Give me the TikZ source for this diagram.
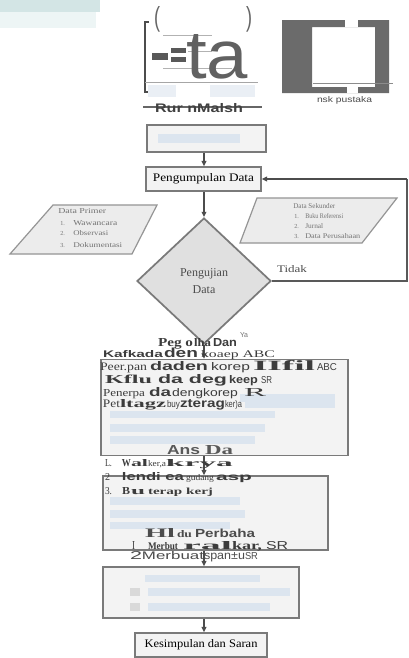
\documentclass[tikz,border=0pt]{standalone}
\usepackage{fontspec}
\setmainfont{Liberation Serif}
\newfontfamily\sfA{Liberation Sans}
\newfontfamily\sfN[FakeStretch=0.7]{Liberation Sans}
\newfontfamily\rmW[FakeStretch=1.4]{Liberation Serif}
\usetikzlibrary{arrows.meta,shapes.geometric}
\newdimen\pxu \pxu=0.75pt
\newcommand\fw[3]{\resizebox{#1\pxu}{#2\pxu}{#3}}
\definecolor{boxc}{HTML}{7A7A7A}
\definecolor{fillc}{HTML}{F3F3F3}
\definecolor{txt}{HTML}{3C3C3C}
\definecolor{blu}{HTML}{DCE5EF}
\definecolor{dk}{HTML}{6B6B6B}
\definecolor{parac}{HTML}{ECECEC}
\definecolor{tealc}{HTML}{D3E5E5}
\tikzset{
  tx/.style={anchor=base west, inner sep=0pt, outer sep=0pt, text=txt},
  box/.style={draw=boxc, line width=1.1pt, fill=fillc, inner sep=0pt},
  arr/.style={draw=black!70, line width=1pt, -{Triangle[length=4pt,width=3.5pt]}},
  ln/.style={draw=black!65, line width=1pt},
  pgram/.style={draw=boxc!80, line width=0.9pt, fill=parac},
  ptx/.style={anchor=base west, inner sep=0pt, text=black!55, font=\fontsize{4.6}{5}\selectfont}
}
\begin{document}
\begin{tikzpicture}[x=0.75pt,y=-0.75pt]
\useasboundingbox[fill=white] (0,0) rectangle (409,658);

% ---- top area
\fill[tealc] (0,0) rectangle (100,12);
\fill[tealc!40] (0,12) rectangle (96,28);
\draw[black!70, line width=1pt] (149,22) -- (145,22) -- (145,92) -- (149,92);
\draw[black!30, line width=0.6pt] (163,35) -- (212,35);
\draw[black!30, line width=0.6pt] (188,51) -- (212,51);
\draw[black!30, line width=0.6pt] (163,68) -- (232,68);
\draw[black!35, line width=0.6pt] (145,82) -- (258,82);
\fill[blu!60] (148,85) rectangle (176,97);
\fill[blu!60] (210,85) rectangle (255,97);
\node[tx, text=black!60] (pl) at (154,26) {\fw{6}{20}{\sfA (}};
\node[tx, text=black!60] (pr) at (246,26) {\fw{6}{20}{\sfA )}};
\fill[black!65] (152,53) rectangle (168,60);
\fill[black!65] (171,48) rectangle (186,53);
\fill[black!65] (171,57) rectangle (186,62);
\node[tx, text=black!62] (ta) at (186,78) {\fw{62}{44}{\sfA ta}};
\draw[black!60, line width=0.8pt] (143,107) -- (262,107);
\node[tx, text=black!75] (rm) at (155,112) {\fw{88}{9}{\sfA\bfseries Rur nMalsh}};

\fill[dk, even odd rule] (282,20) rectangle (389,93) (312,27) rectangle (375,87);
\fill[white] (345,20) rectangle (358,27);
\fill[white] (347,87) rectangle (358,93);
\draw[black!45, line width=0.7pt] (313,83) -- (393,83);
\node[tx, text=black!70] (sp) at (317,102) {\fw{55}{6}{\sfA nsk pustaka}};

% ---- flow boxes
\node[box, minimum width={119*0.75pt}, minimum height={27*0.75pt}] (b1) at (206.5,138.5) {};
\fill[blu] (158,134) rectangle (240,143);
\node[box, minimum width={115*0.75pt}, minimum height={24*0.75pt}] (pd) at (203.5,179) {\fw{101}{8}{Pengumpulan Data}};
\node[draw=boxc, line width=1.3pt, fill=black!12, shape=diamond, inner sep=0pt,
      minimum width={134*0.75pt}, minimum height={126*0.75pt}, align=center,
      font=\fontsize{9}{12.75}\selectfont, text=black!70] (dg) at (204,281) {Pengujian\\Data};
\node[box, minimum width={247*0.75pt}, minimum height={96*0.75pt}] (bx2) at (224.5,407.5) {};
\node[box, minimum width={225*0.75pt}, minimum height={74*0.75pt}] (bx3) at (215.5,513) {};
\node[box, minimum width={196*0.75pt}, minimum height={51*0.75pt}] (bx4) at (201,592.5) {};
\node[box, minimum width={132*0.75pt}, minimum height={24*0.75pt}] (bx5) at (201,645) {\fw{113}{8}{Kesimpulan dan Saran}};

% parallelograms
\draw[pgram] (53,205) -- (157,205) -- (132,254) -- (10,254) -- cycle;
\node[ptx] (p0) at (58,213) {\fw{48}{5}{Data Primer}};
\node[ptx] (p1n) at (60,225) {1.};
\node[ptx] (p1) at (73,225) {\fw{44}{5}{Wawancara}};
\node[ptx] (p2n) at (60,235) {2.};
\node[ptx] (p2) at (73,235) {\fw{35}{5}{Observasi}};
\node[ptx] (p3n) at (60,247) {3.};
\node[ptx] (p3) at (73,247) {\fw{49}{5}{Dokumentasi}};

\draw[pgram] (257,198) -- (397,198) -- (362,243) -- (240,243) -- cycle;
\node[ptx] (s0) at (293,208) {\fw{42}{5}{Data Sekunder}};
\node[ptx] (s1n) at (294,218) {1.};
\node[ptx] (s1) at (305,218) {\fw{38}{5}{Buku Referensi}};
\node[ptx] (s2n) at (294,228) {2.};
\node[ptx] (s2) at (305,228) {\fw{18}{5}{Jurnal}};
\node[ptx] (s3n) at (294,238) {3.};
\node[ptx] (s3) at (305,238) {\fw{55}{5}{Data Perusahaan}};

\node[tx, text=black!70] (td) at (277,272) {\fw{30}{7}{Tidak}};

% connectors
\coordinate (rt) at (407,0);
\draw[arr] (b1.south -| dg.north) -- (pd.north -| dg.north);
\draw[arr] (pd.south -| dg.north) -- (dg.north);
\draw[arr] (dg.south) -- (dg.south |- bx2.north);
\draw[arr] (dg.south |- bx2.south) -- (dg.south |- bx3.north);
\draw[arr] (dg.south |- bx3.south) -- (dg.south |- bx4.north);
\draw[arr] (dg.south |- bx4.south) -- (dg.south |- bx5.north);
\draw[ln] (dg.east) -- (dg.east -| rt) -- (pd.east -| rt);
\draw[arr] (pd.east -| rt) -- (pd.east);

% blurred bars in boxes
\fill[blu] (240,394) rectangle (335,402);
\fill[blu] (245,400) rectangle (335,408);
\fill[blu] (110,411) rectangle (275,418);
\fill[blu] (110,424) rectangle (265,432);
\fill[blu] (110,436) rectangle (255,444);
\fill[blu] (110,497) rectangle (240,505);
\fill[blu] (110,510) rectangle (245,518);
\fill[blu] (110,522) rectangle (230,529);
\fill[blu] (145,575) rectangle (260,582);
\fill[black!15] (130,588) rectangle (140,596);
\fill[blu] (148,588) rectangle (290,596);
\fill[black!15] (130,603) rectangle (140,611);
\fill[blu] (148,603) rectangle (270,611);

% ---- overlay text, box 2
\node[tx] (a1) at (158,346) {\fw{35}{8}{\bfseries Peg o}};
\node[tx] (a2) at (194,346) {\fw{17}{8}{\rmW\bfseries lha}};
\node[tx] (a3) at (213,346) {\fw{24}{8}{\sfA\bfseries Dan}};
\node[tx, text=black!55] (ya) at (240,337) {\fw{8}{5}{\sfA Ya}};

\node[tx] (b1t) at (103,357) {\fw{60}{7}{\sfA\bfseries Kafkada}};
\node[tx] (b2t) at (164,357) {\fw{34}{9.5}{\sfA\bfseries den}};
\node[tx] (b3t) at (201,357) {\fw{74}{7}{koaep ABC}};

\node[tx] (c1) at (100,370) {\fw{47}{7.5}{Peer.pan}};
\node[tx] (c2) at (150,370) {\fw{58}{9}{\sfA\bfseries daden}};
\node[tx] (c3) at (211,370) {\fw{39}{8}{\sfA korep}};
\node[tx] (c4) at (253,370) {\fw{62}{10}{\rmW\bfseries IIfil}};
\node[tx] (c5) at (317,370) {\fw{20}{7}{\sfN ABC}};

\node[tx] (d1) at (105,383) {\fw{47}{8.5}{\rmW\bfseries Kflu}};
\node[tx] (d2) at (158,383) {\fw{69}{9}{\sfA\bfseries da deg}};
\node[tx] (d3) at (229,383) {\fw{29}{8}{\sfA\bfseries keep}};
\node[tx] (d4) at (261,383) {\fw{11}{7}{\sfN SR}};

\node[tx] (e1) at (103,396) {\fw{42}{7}{Penerpa}};
\node[tx] (e2) at (149,396) {\fw{22}{9}{\sfA\bfseries da}};
\node[tx] (e3) at (172,396) {\fw{66}{8}{\sfA dengkorep}};
\node[tx] (e4) at (244,396) {\fw{22}{8}{\rmW R}};

\node[tx] (f1) at (103,407) {\fw{17}{7.5}{Pet}};
\node[tx] (f2) at (120,407) {\fw{46}{8}{\rmW\bfseries ltagz}};
\node[tx] (f3) at (167,407) {\fw{13}{7}{\sfN buy}};
\node[tx] (f4) at (180,407) {\fw{45}{8}{\sfA\bfseries zterag}};
\node[tx] (f5) at (225,407) {\fw{17}{7}{\sfN ker)a}};

\node[tx, text=black!65] (g1) at (167,454) {\fw{33}{9}{\sfA\bfseries Ans}};
\node[tx, text=black!65] (g2) at (205,454) {\fw{28}{9}{\bfseries Da}};

% ---- overlay text, box 3
\node[tx] (h0) at (105,466) {\fw{7}{7}{L.}};
\node[tx] (h1) at (122,466) {\fw{9}{7}{\bfseries W}};
\node[tx] (h2) at (131,466) {\fw{17}{7}{\rmW\bfseries al}};
\node[tx] (h3) at (148,466) {\fw{18}{6}{ker,a}};
\node[tx] (h4) at (166,466) {\fw{67}{7}{\rmW\bfseries krya}};

\node[tx] (i0) at (105,480) {\fw{5}{7}{2}};
\node[tx] (i1) at (122,480) {\fw{62}{8}{\sfA\bfseries lendi ea}};
\node[tx] (i2) at (186,480) {\fw{28}{6}{gudang}};
\node[tx] (i3) at (216,480) {\fw{36}{5.5}{\sfA\bfseries asp}};

\node[tx] (j0) at (105,494) {\fw{7}{7}{3.}};
\node[tx] (j1) at (122,494) {\fw{8}{7}{\bfseries B}};
\node[tx] (j2) at (131,494) {\fw{14}{5}{\rmW\bfseries u}};
\node[tx] (j3) at (148,494) {\fw{65}{6.5}{\bfseries terap kerj}};

\node[tx, text=black!70] (k1) at (145,537) {\fw{30}{9}{\rmW\bfseries Hl}};
\node[tx, text=black!70] (k2) at (177,537) {\fw{15}{7}{\bfseries du}};
\node[tx, text=black!70] (k3) at (195,537) {\fw{60}{8.5}{\sfA\bfseries Perbaha}};

\node[tx] (l0) at (132,549) {\fw{3}{8}{I}};
\node[tx] (l1) at (148,549) {\fw{30}{7}{\bfseries Merbut}};
\node[tx] (l2) at (183,549) {\fw{49}{8}{\rmW\bfseries ral}};
\node[tx] (l3) at (232,549) {\fw{30}{8}{\bfseries kar,}};
\node[tx] (l4) at (266,549) {\fw{22}{8}{\sfN SR}};

\node[tx, text=black!70] (m0) at (130,559) {\fw{12}{8}{\sfA 2}};
\node[tx, text=black!70] (m1) at (142,559) {\fw{62}{8}{\sfA Merbuat}};
\node[tx, text=black!70] (m2) at (204,559) {\fw{41}{7}{\sfN span±u}};
\node[tx, text=black!70] (m3) at (245,559) {\fw{13}{7}{\sfN SR}};
\end{tikzpicture}
\end{document}
